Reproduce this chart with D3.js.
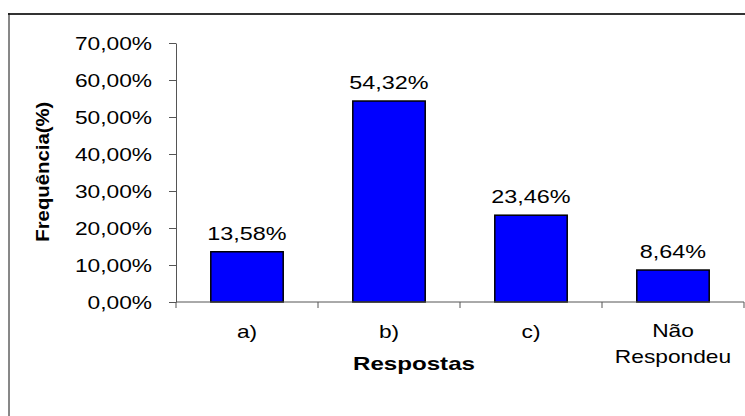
<!DOCTYPE html>
<html>
<head>
<meta charset="utf-8">
<script src="https://cdn.jsdelivr.net/npm/d3@7/dist/d3.min.js"></script>
<style>
  html, body { margin: 0; padding: 0; background: #fff; }
  svg { display: block; }
  text { font-family: "Liberation Sans", Arial, sans-serif; fill: #000; }
</style>
</head>
<body>
<svg id="chart" width="745" height="416"></svg>
<script>
// Answer categories and their share of responses
const categories = ["a)", "b)", "c)", "Não Respondeu"];
const frequencies = [0.1358, 0.5432, 0.2346, 0.0864];
const yTicks = [0, 0.1, 0.2, 0.3, 0.4, 0.5, 0.6, 0.7];
const xTitle = "Respostas";
const yTitle = "Frequência(%)";

const svg = d3.select("#chart");
const W = 745, H = 416;
const plot = { left: 176, right: 744, top: 43, bottom: 302 };
const stretch = 1.3; // glyphs are drawn a little wide

// Portuguese number format: comma as decimal separator
const ptBR = d3.formatLocale({ decimal: ",", thousands: ".", grouping: [3], currency: ["R$", ""] });
const pct = ptBR.format(".2%");

// chart frame
svg.append("line").attr("x1", 8).attr("x2", W).attr("y1", 14).attr("y2", 14)
  .attr("stroke", "#333").attr("stroke-width", 2);
svg.append("line").attr("x1", 9).attr("x2", 9).attr("y1", 13).attr("y2", H)
  .attr("stroke", "#111").attr("stroke-width", 1);

const x = d3.scaleBand()
  .domain(categories)
  .range([plot.left, plot.right])
  .paddingInner(0.49)
  .paddingOuter(0.245);

const y = d3.scaleLinear()
  .domain([0, 0.7])
  .range([plot.bottom, plot.top]);

// y axis
const yAxis = svg.append("g")
  .attr("transform", `translate(${plot.left},0)`)
  .call(d3.axisLeft(y).tickValues(yTicks).tickFormat(pct).tickSize(7).tickSizeOuter(0).tickPadding(17));
yAxis.select(".domain").attr("stroke", "#555");
yAxis.selectAll(".tick line").attr("stroke", "#555");
yAxis.selectAll(".tick text").each(function () {
  const t = d3.select(this);
  const tx = +t.attr("x");
  t.attr("x", 0).attr("dy", "0.36em")
    .attr("transform", `translate(${tx},0) scale(${stretch},1)`)
    .style("font-family", "'Liberation Sans', Arial, sans-serif")
    .style("font-size", "17.5px").attr("fill", "#000");
});

// bars
svg.append("g").selectAll("rect")
  .data(categories)
  .join("rect")
  .attr("x", d => x(d))
  .attr("y", (d, i) => y(frequencies[i]))
  .attr("width", x.bandwidth())
  .attr("height", (d, i) => y(0) - y(frequencies[i]))
  .attr("fill", "#0000ff")
  .attr("stroke", "#000")
  .attr("stroke-width", 1.5);

// x axis line with ticks at category boundaries
const xAxis = svg.append("g");
xAxis.append("line")
  .attr("x1", plot.left).attr("x2", plot.right)
  .attr("y1", y(0)).attr("y2", y(0))
  .attr("stroke", "#555");
const bounds = d3.range(categories.length + 1).map(i => plot.left + i * x.step());
xAxis.selectAll(".bt").data(bounds).join("line")
  .attr("class", "bt")
  .attr("x1", d => d).attr("x2", d => d)
  .attr("y1", y(0)).attr("y2", y(0) + 6)
  .attr("stroke", "#555");

// category labels (split on the space into lines)
const catG = svg.append("g").selectAll("text")
  .data(categories)
  .join("text")
  .attr("text-anchor", "middle")
  .attr("transform", d => `translate(${x(d) + x.bandwidth() / 2},${d.includes(" ") ? 337 : 338}) scale(${stretch},1)`)
  .style("font-size", "17.5px");
catG.each(function (d) {
  const parts = d.split(" ");
  const t = d3.select(this);
  parts.forEach((p, k) => {
    t.append("tspan").attr("x", 0).attr("dy", k === 0 ? 0 : 26).text(p);
  });
});

// value labels above bars
svg.append("g").selectAll("text")
  .data(categories)
  .join("text")
  .attr("text-anchor", "middle")
  .attr("transform", (d, i) => `translate(${x(d) + x.bandwidth() / 2},${y(frequencies[i]) - 12}) scale(${stretch},1)`)
  .style("font-size", "18px")
  .text((d, i) => pct(frequencies[i]));

// axis titles
svg.append("text")
  .attr("text-anchor", "middle")
  .attr("transform", `translate(414,370) scale(1.34,1)`)
  .style("font-size", "18px").style("font-weight", "bold")
  .text(xTitle);

svg.append("text")
  .attr("text-anchor", "middle")
  .attr("transform", `translate(48.6,171.7) rotate(-90) scale(1.13,1)`)
  .style("font-size", "18px").style("font-weight", "bold")
  .text(yTitle);
</script>
</body>
</html>
